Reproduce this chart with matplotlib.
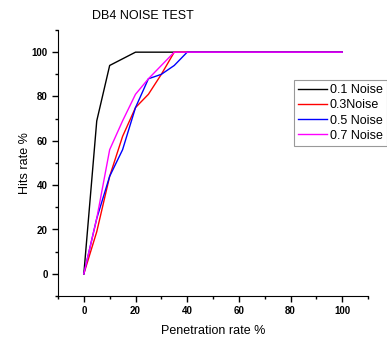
import matplotlib
matplotlib.use("Agg")
import matplotlib.pyplot as plt
from matplotlib.ticker import MultipleLocator

plt.rcParams['font.family'] = ['Liberation Sans', 'DejaVu Sans']

# penetration rate (x) and hits rate (y) for each noise level
pen = [0, 5, 10, 15, 20, 25, 30, 35, 40, 100]
hits_01 = [0, 69, 94, 97, 100, 100, 100, 100, 100, 100]
hits_03 = [0, 19, 44, 62, 75, 81, 90, 100, 100, 100]
hits_05 = [0, 25, 44, 56, 75, 88, 90, 94, 100, 100]
hits_07 = [0, 25, 56, 69, 81, 88, 94, 100, 100, 100]
labels = ['0.1 Noise', '0.3Noise', '0.5 Noise', '0.7 Noise']
colors = ['black', 'red', 'blue', 'magenta']

fig = plt.figure(figsize=(3.87, 3.39), dpi=100)
ax = fig.add_axes([58/387, 1 - 296/339, 310/387, 266/339])

for ys, lab, col in zip([hits_01, hits_03, hits_05, hits_07], labels, colors):
    ax.plot(pen, ys, color=col, lw=1.0, label=lab)

ax.set_xlim(-10, 110)
ax.set_ylim(-10, 110)
ax.xaxis.set_minor_locator(MultipleLocator(10))
ax.yaxis.set_minor_locator(MultipleLocator(10))
ax.set_xticks([0, 20, 40, 60, 80, 100])
ax.set_yticks([0, 20, 40, 60, 80, 100])
ax.spines['top'].set_visible(False)
ax.spines['right'].set_visible(False)
ax.tick_params(which='major', direction='out', length=4, width=1, labelsize=7)
ax.tick_params(which='minor', direction='out', length=2, width=1)
for t in ax.get_xticklabels() + ax.get_yticklabels():
    t.set_fontweight('bold')

ax.set_xlabel('Penetration rate %', fontsize=9, labelpad=6)
ax.set_ylabel('Hits rate %', fontsize=9, labelpad=0)
fig.text(143/387, 1 - 16/339, 'DB4 NOISE TEST', ha='center', va='center', fontsize=9)

leg = ax.legend(loc='upper left', bbox_to_anchor=(294/387, 1 - 80/339),
                bbox_transform=fig.transFigure, fontsize=9, frameon=True,
                fancybox=False, edgecolor='gray', handlelength=2.3,
                handletextpad=0.2, labelspacing=0.25, borderpad=0.35,
                borderaxespad=0)
leg.get_frame().set_linewidth(0.8)

fig.savefig('out.png', dpi=100)
